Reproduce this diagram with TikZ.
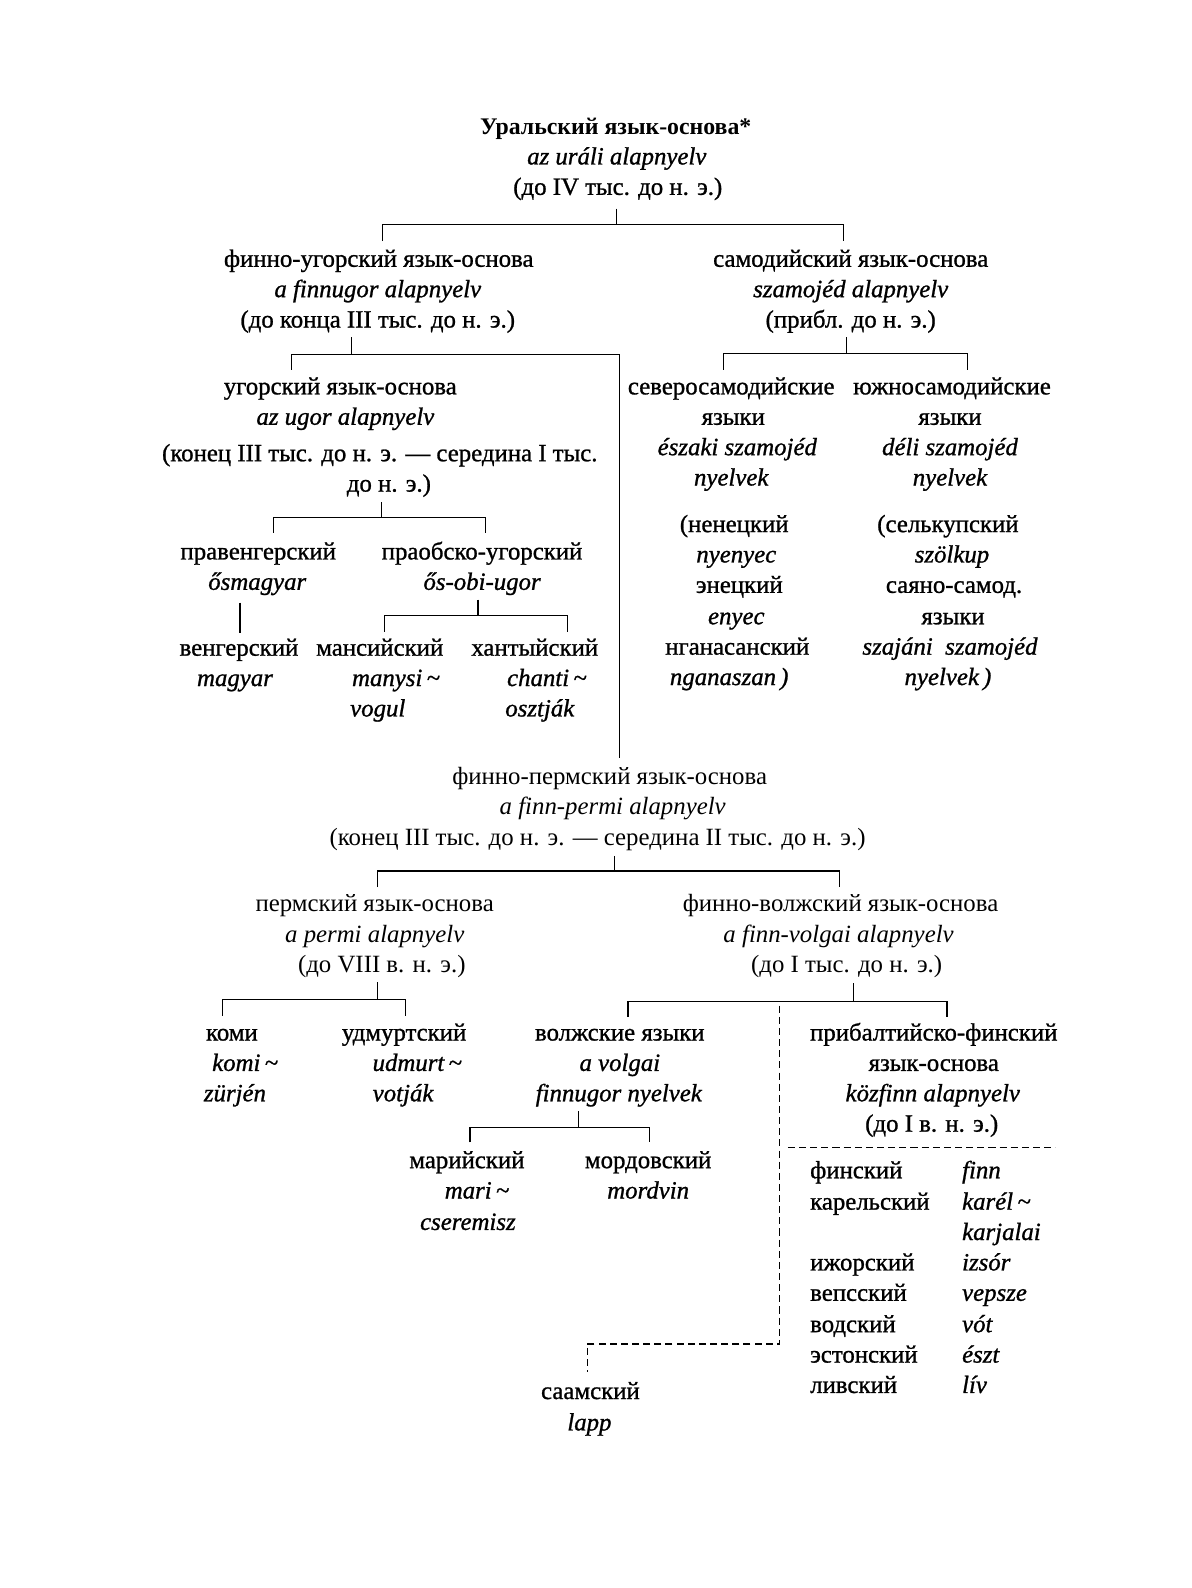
\documentclass[tikz,border=0pt]{standalone}
\usepackage{fontspec}
\setmainfont{Liberation Serif}
\newfontfamily\hvy{Liberation Serif}[FakeBold=1.0]
\newcommand\fsz{\fontsize{24.5}{30}\selectfont}
\newcommand\tsz{\fontsize{23.5}{30}\selectfont}
\newcommand\treebracket[7]{%
  \coordinate (#1-p) at (#2,#3);
  \coordinate (#1-b) at (#2,#4);
  \coordinate (#1-l) at (#5,#4);
  \coordinate (#1-r) at (#6,#4);
  \coordinate (#1-ld) at (#5,#7);
  \coordinate (#1-rd) at (#6,#7);
  \draw[link] (#1-p) -- (#1-b);
  \draw[link] (#1-ld) -- (#1-l) -- (#1-r) -- (#1-rd);
}
\tikzset{
  lbl/.style={inner sep=0pt, outer sep=0pt, text height=0.68em, text depth=0.2em, yshift=-5pt},
  ru/.style={lbl, font=\hvy\fsz},
  hu/.style={lbl, font=\hvy\fsz\itshape},
  lru/.style={lbl, font=\fsz},
  lhu/.style={lbl, font=\fsz\itshape},
  title/.style={lbl, font=\tsz\bfseries},
  link/.style={line width=1.2pt, black},
  dlink/.style={line width=1.2pt, black, dash pattern=on 7pt off 4pt},
}
\begin{document}
\begin{tikzpicture}[x=1pt,y=-1pt]
\useasboundingbox[fill=white] (0,0) rectangle (1176,1568);

% Uralic
\node[title] (ur1) at (608,125) {Уральский язык-основа*};
\node[hu] (ur2) at (609,155) {az uráli alapnyelv};
\node[ru] (ur3) at (610,185) {(до IV тыс. до н. э.)};

% Finno-Ugric
\node[ru] (fu1) at (374,256) {финно-угорский язык-основа};
\node[hu] (fu2) at (373,286) {a finnugor alapnyelv};
\node[ru] (fu3) at (373,316) {(до конца III тыс. до н. э.)};

% Samoyed
\node[ru] (sa1) at (840,256) {самодийский язык-основа};
\node[hu] (sa2) at (840,286) {szamojéd alapnyelv};
\node[ru] (sa3) at (840,316) {(прибл. до н. э.)};

% Ugric
\node[ru] (ug1) at (336,382) {угорский язык-основа};
\node[hu] (ug2) at (341,412) {az ugor alapnyelv};
\node[ru] (ug3) at (375,448) {(конец III тыс. до н. э. — середина I тыс.};
\node[ru] (ug4) at (384,478) {до н. э.)};

\node[ru] (ph1) at (255,545) {правенгерский};
\node[hu] (ph2) at (254,575) {ősmagyar};
\node[ru] (hg1) at (236,640) {венгерский};
\node[hu] (hg2) at (232,670) {magyar};

\node[ru] (po1) at (476,545) {праобско-угорский};
\node[hu] (po2) at (476,575) {ős-obi-ugor};
\node[ru] (ma1) at (375,640) {мансийский};
\node[hu] (ma2) at (391,670) {manysi\,\textasciitilde};
\node[hu] (ma3) at (373,700) {vogul};
\node[ru] (kh1) at (528,640) {хантыйский};
\node[hu] (kh2) at (540,670) {chanti\,\textasciitilde};
\node[hu] (kh3) at (533,700) {osztják};

% North Samoyed
\node[ru] (ns1) at (722,382) {северосамодийские};
\node[ru] (ns2) at (724,412) {языки};
\node[hu] (ns3) at (728,442) {északi szamojéd};
\node[hu] (ns4) at (722,472) {nyelvek};
\node[ru] (ns5) at (725,518) {(ненецкий};
\node[hu] (ns6) at (727,548) {nyenyec};
\node[ru] (ns7) at (730,578) {энецкий};
\node[hu] (ns8) at (727,609) {enyec};
\node[ru] (ns9) at (728,639) {нганасанский};
\node[hu] (ns10) at (720,669) {nganaszan\,)};

% South Samoyed
\node[ru] (ss1) at (940,382) {южносамодийские};
\node[ru] (ss2) at (938,412) {языки};
\node[hu] (ss3) at (938,442) {déli szamojéd};
\node[hu] (ss4) at (938,472) {nyelvek};
\node[ru] (ss5) at (936,518) {(селькупский};
\node[hu] (ss6) at (940,548) {szölkup};
\node[ru] (ss7) at (942,578) {саяно-самод.};
\node[ru] (ss8) at (941,609) {языки};
\node[hu] (ss9) at (938,639) {szajáni\ \ szamojéd};
\node[hu] (ss10) at (936,669) {nyelvek\,)};

% Finno-Permic
\node[lru] (fp1) at (602,767) {финно-пермский язык-основа};
\node[lhu] (fp2) at (605,797) {a finn-permi alapnyelv};
\node[lru] (fp3) at (590,827) {(конец III тыс. до н. э. — середина II тыс. до н. э.)};

% Permic
\node[lru] (pe1) at (370,893) {пермский язык-основа};
\node[lhu] (pe2) at (370,923) {a permi alapnyelv};
\node[lru] (pe3) at (377,953) {(до VIII в. н. э.)};
\node[ru] (ko1) at (229,1020) {коми};
\node[hu] (ko2) at (242,1050) {komi\,\textasciitilde};
\node[hu] (ko3) at (232,1080) {zürjén};
\node[ru] (ud1) at (399,1020) {удмуртский};
\node[hu] (ud2) at (412,1050) {udmurt\,\textasciitilde};
\node[hu] (ud3) at (398,1080) {votják};

% Finno-Volgaic
\node[lru] (fv1) at (830,893) {финно-волжский язык-основа};
\node[lhu] (fv2) at (828,923) {a finn-volgai alapnyelv};
\node[lru] (fv3) at (836,953) {(до I тыс. до н. э.)};

% Volgaic
\node[ru] (vo1) at (612,1020) {волжские языки};
\node[hu] (vo2) at (612,1050) {a volgai};
\node[hu] (vo3) at (611,1080) {finnugor nyelvek};
\node[ru] (mr1) at (461,1146) {марийский};
\node[hu] (mr2) at (471,1176) {mari\,\textasciitilde};
\node[hu] (mr3) at (462,1207) {cseremisz};
\node[ru] (mo1) at (640,1146) {мордовский};
\node[hu] (mo2) at (640,1176) {mordvin};

% Baltic-Finnic
\node[ru] (bf1) at (922,1020) {прибалтийско-финский};
\node[ru] (bf2) at (922,1050) {язык-основа};
\node[hu] (bf3) at (921,1080) {közfinn alapnyelv};
\node[ru] (bf4) at (920,1110) {(до I в. н. э.)};

\node[ru, anchor=west] (t1a) at (800,1156) {финский};
\node[ru, anchor=west] (t2a) at (800,1187) {карельский};
\node[ru, anchor=west] (t3a) at (800,1247) {ижорский};
\node[ru, anchor=west] (t4a) at (800,1277) {вепсский};
\node[ru, anchor=west] (t5a) at (800,1308) {водский};
\node[ru, anchor=west] (t6a) at (800,1338) {эстонский};
\node[ru, anchor=west] (t7a) at (800,1368) {ливский};
\node[hu, anchor=west] (t1b) at (950,1156) {finn};
\node[hu, anchor=west] (t2b) at (950,1187) {karél\,\textasciitilde};
\node[hu, anchor=west] (t2c) at (950,1217) {karjalai};
\node[hu, anchor=west] (t3b) at (950,1247) {izsór};
\node[hu, anchor=west] (t4b) at (950,1277) {vepsze};
\node[hu, anchor=west] (t5b) at (950,1308) {vót};
\node[hu, anchor=west] (t6b) at (950,1338) {észt};
\node[hu, anchor=west] (t7b) at (950,1368) {lív};

% Saami
\node[ru] (sm1) at (583,1374) {саамский};
\node[hu] (sm2) at (582,1405) {lapp};

% connectors
\treebracket{urb}{609}{206}{222}{378}{833}{238}
\treebracket{sab}{836}{333}{349}{714}{955}{365}
\treebracket{ugb}{377}{496}{511}{270}{479}{526}
\treebracket{obb}{472}{592}{608}{380}{560}{624}
\treebracket{fpb}{607}{845}{860}{373}{829}{876}
\treebracket{peb}{373}{970}{987}{220}{400}{1003}
\treebracket{fvb}{843}{971}{989}{620}{935}{1004}
\treebracket{vob}{571}{1097}{1113}{464}{641}{1128}

% Finno-Ugric bracket, its right arm running down to Finno-Permic
\coordinate (fub-p) at (347,333);
\coordinate (fub-b) at (347,350);
\coordinate (fub-l) at (288,350);
\coordinate (fub-ld) at (288,365);
\coordinate (fub-r) at (612,350);
\coordinate (fub-rd) at (612,748);
\draw[link] (fub-p) -- (fub-b);
\draw[link] (fub-ld) -- (fub-l) -- (fub-r) -- (fub-rd);

% Hungarian line
\coordinate (hg-t) at (237,595);
\coordinate (hg-b) at (237,625);
\draw[link] (hg-t) -- (hg-b);

% dashed Saami link
\coordinate (sm-a) at (770,993);
\coordinate (sm-b) at (770,1327);
\coordinate (sm-c) at (580,1327);
\coordinate (sm-d) at (580,1355);
\draw[dlink] (sm-a) -- (sm-b) -- (sm-c) -- (sm-d);

% dashed rule under Baltic-Finnic
\coordinate (bf-l) at (778,1133);
\coordinate (bf-r) at (1042,1133);
\draw[dlink] (bf-l) -- (bf-r);
\end{tikzpicture}
\end{document}
